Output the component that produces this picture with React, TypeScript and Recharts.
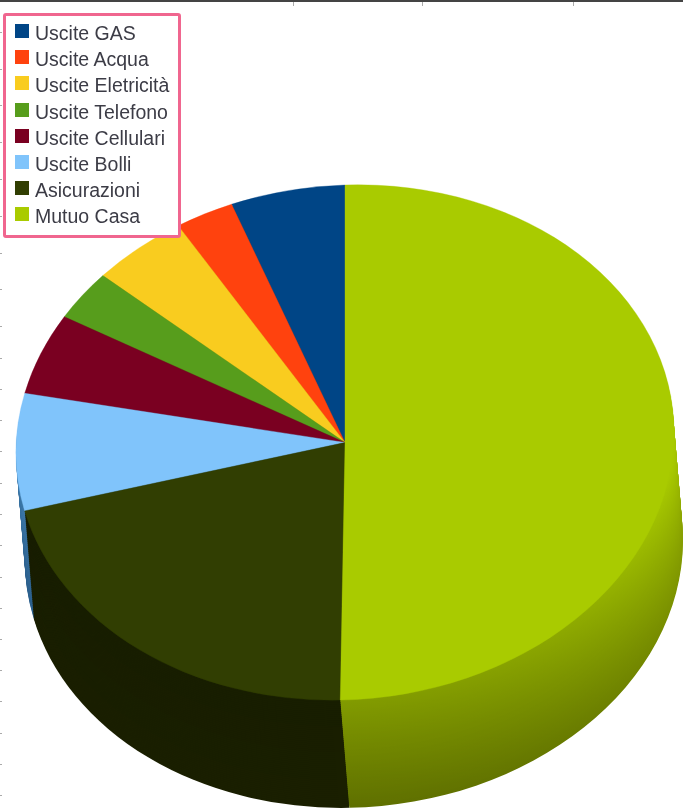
import React from "react";
import { PieChart, Pie, Cell } from "recharts";

const categories = [
  "Uscite GAS",
  "Uscite Acqua",
  "Uscite Eletricità",
  "Uscite Telefono",
  "Uscite Cellulari",
  "Uscite Bolli",
  "Asicurazioni",
  "Mutuo Casa",
];
const values = [5.6, 2.86, 4.7, 3.1, 5.05, 7.33, 21.1, 50.2];
const topColors = ["#004586", "#ff420e", "#f9cc1f", "#579d1c", "#7a0021", "#80c4fb", "#313e02", "#a9cb00"];
// side wall colours: just under the top face, then at the bottom rim
const wallNear = ["#003060", "#b02e0a", "#b09016", "#3d6e14", "#560017", "#3d78a8", "#181e00", "#96b000"];
const wallFar = ["#002040", "#801f06", "#80680f", "#2a4c0d", "#3a000f", "#2c5f8c", "#1a1f00", "#607200"];

// the ruler marks left at the edge of the screenshot
const topTicks = [293, 422, 573];
const leftTicks = [32, 69, 105, 142, 179, 216, 253, 289, 326, 358, 389, 420, 451, 483, 514, 545, 577, 608, 639, 670, 701, 733, 764, 795];

const tableData = categories.map((name, i) => ({ name, value: values[i] }));

const radius = 329;
const squash = 257.5 / radius;
const tilt = -10 / radius;
const topCx = 345;
const topCy = 442.5;
const bottomCx = 354;
const bottomCy = topCy + 108 / squash;
const layers = 54;
const limeIndex = 7;

// page y to the y of the chart before it gets squashed
const chartY = (pageY: number) => topCy + (pageY - topCy) / squash;

function mix(a: string, b: string, t: number) {
  const ch = (s: string, i: number) => parseInt(s.slice(1 + i * 2, 3 + i * 2), 16);
  const out = [0, 1, 2].map((i) => Math.round(ch(a, i) + (ch(b, i) - ch(a, i)) * t));
  return `rgb(${out.join(",")})`;
}

export default function App() {
  const grads = [];
  const wall = [];
  // deepest layer first so the top face ends up above all of them
  for (let k = layers; k >= 1; k--) {
    const t = k / layers;
    grads.push(
      <linearGradient key={k} id={`lime${k}`} gradientUnits="userSpaceOnUse" x1="0" x2="0" y1={chartY(480)} y2={chartY(810)}>
        <stop offset="0" stopColor={mix("#a9cb00", "#8ea800", t)} />
        <stop offset="1" stopColor={mix("#6f8400", "#5f7000", t)} />
      </linearGradient>
    );
    wall.push(
      <Pie
        key={k}
        data={tableData}
        dataKey="value"
        nameKey="name"
        cx={topCx + (bottomCx - topCx) * t}
        cy={topCy + (bottomCy - topCy) * t}
        outerRadius={radius}
        startAngle={90}
        endAngle={450}
        stroke="none"
        isAnimationActive={false}
        labelLine={false}
      >
        {categories.map((c, i) => (
          <Cell key={c} fill={i === limeIndex ? `url(#lime${k})` : mix(wallNear[i], wallFar[i], t)} />
        ))}
      </Pie>
    );
  }

  return (
    <div
      style={{
        position: "fixed",
        left: 0,
        top: 0,
        width: 683,
        height: 810,
        overflow: "hidden",
        background: "#fff",
        fontFamily: "'Liberation Sans', sans-serif",
        filter: "blur(0.4px)",
      }}
    >
      <div
        style={{
          position: "absolute",
          left: 0,
          top: 0,
          transform: `matrix(1, ${tilt}, 0, ${squash}, 0, 0)`,
          transformOrigin: `${topCx}px ${topCy}px`,
        }}
      >
        <PieChart width={700} height={930} margin={{ top: 0, right: 0, bottom: 0, left: 0 }}>
          <defs>{grads}</defs>
          {wall}
          <Pie
            data={tableData}
            dataKey="value"
            nameKey="name"
            cx={topCx}
            cy={topCy}
            outerRadius={radius}
            startAngle={90}
            endAngle={450}
            isAnimationActive={false}
            labelLine={false}
          >
            {categories.map((c, i) => (
              <Cell key={c} fill={topColors[i]} stroke={topColors[i]} strokeWidth={0.4} />
            ))}
          </Pie>
        </PieChart>
      </div>

      {/* screenshot frame and ruler */}
      <div style={{ position: "absolute", left: 0, top: 0, width: 683, height: 2, background: "#444" }} />
      {topTicks.map((x) => (
        <div key={x} style={{ position: "absolute", left: x, top: 2, width: 1, height: 4, background: "#aaa" }} />
      ))}
      {leftTicks.map((y) => (
        <div key={y} style={{ position: "absolute", left: 0, top: y, width: 2, height: 1, background: "#aaa" }} />
      ))}

      {/* Legend */}
      <div
        style={{
          position: "absolute",
          left: 3,
          top: 13,
          width: 172,
          height: 219,
          background: "#fff",
          border: "3px solid #f0668f",
          borderRadius: 3,
        }}
      >
        {categories.map((c, i) => (
          <div key={c} style={{ position: "absolute", left: 0, top: 4 + i * 26.2, height: 26, width: 170 }}>
            <div style={{ position: "absolute", left: 9, top: 4, width: 14, height: 14, background: topColors[i] }} />
            <div
              style={{
                position: "absolute",
                left: 29,
                top: 2,
                fontSize: 19.5,
                lineHeight: "22px",
                color: "#3c3c46",
                whiteSpace: "nowrap",
              }}
            >
              {c}
            </div>
          </div>
        ))}
      </div>
    </div>
  );
}
